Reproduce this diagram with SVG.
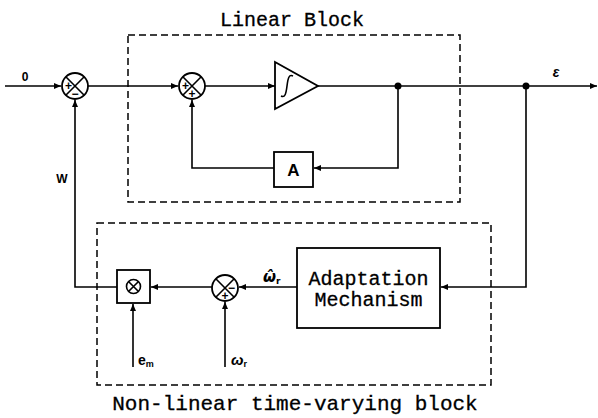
<svg xmlns="http://www.w3.org/2000/svg" width="598" height="418" viewBox="0 0 598 418">
<style>
.ln{fill:none;stroke:#000;stroke-width:1.6}
.box{fill:#fff;stroke:#000;stroke-width:1.8}
.dash{fill:none;stroke:#000;stroke-width:1.5;stroke-dasharray:7 4}
.big{font-family:"Liberation Mono","DejaVu Sans Mono",monospace;font-size:20px;fill:#000;stroke:#000;stroke-width:0.3}
.lbl{font-family:"Liberation Sans","DejaVu Sans",sans-serif;font-weight:bold;fill:#000}
.sg{font-family:"Liberation Sans",sans-serif;font-weight:bold;font-size:12px;fill:#000;text-anchor:middle}
</style>
<defs>
<marker id="ar" markerWidth="8" markerHeight="8" refX="7" refY="4" orient="auto" markerUnits="userSpaceOnUse">
<path d="M0,1 L7,4 L0,7 z" fill="#000"/>
</marker>
</defs>
<rect class="dash" x="128" y="35" width="332" height="167"/>
<rect class="dash" x="97" y="223" width="394" height="162"/>
<text class="big" x="292" y="26" text-anchor="middle">Linear Block</text>
<text class="big" x="295" y="410" text-anchor="middle" style="font-size:21px">Non-linear time-varying block</text>
<g id="connectors">
<line class="ln" x1="5" y1="86" x2="61" y2="86" marker-end="url(#ar)"/>
<line class="ln" x1="88" y1="86" x2="178" y2="86" marker-end="url(#ar)"/>
<line class="ln" x1="205" y1="86" x2="275" y2="86" marker-end="url(#ar)"/>
<line class="ln" x1="318" y1="86" x2="597" y2="86" marker-end="url(#ar)"/>
<polyline class="ln" points="398,86 398,168 314,168" marker-end="url(#ar)"/>
<polyline class="ln" points="274,168 192,168 192,100" marker-end="url(#ar)"/>
<polyline class="ln" points="526,86 526,287 441,287" marker-end="url(#ar)"/>
<line class="ln" x1="297" y1="287" x2="239" y2="287" marker-end="url(#ar)"/>
<line class="ln" x1="212" y1="287" x2="151" y2="287" marker-end="url(#ar)"/>
<polyline class="ln" points="117,287 75,287 75,100" marker-end="url(#ar)"/>
<line class="ln" x1="133" y1="367" x2="133" y2="304" marker-end="url(#ar)"/>
<line class="ln" x1="225" y1="367" x2="225" y2="302" marker-end="url(#ar)"/>
<circle cx="398" cy="86" r="3.5" fill="#000"/>
<circle cx="526" cy="86" r="3.5" fill="#000"/>
</g>
<g id="sum1">
<circle class="box" cx="75" cy="86" r="13"/>
<path class="ln" d="M65.8,76.8 L84.2,95.2 M84.2,76.8 L65.8,95.2"/>
<text class="sg" x="68.5" y="90">+</text>
<text class="sg" x="75" y="97.5">−</text>
</g>
<g id="sum2">
<circle class="box" cx="192" cy="86" r="13"/>
<path class="ln" d="M182.8,76.8 L201.2,95.2 M201.2,76.8 L182.8,95.2"/>
<text class="sg" x="185.5" y="90">+</text>
<text class="sg" x="192" y="97.5">+</text>
</g>
<g id="integrator">
<polygon class="box" points="275,62 318,86 275,109"/>
<path class="ln" d="M281,96 C285,98 286,94 287,86 C288,78 289,74 293,76"/>
</g>
<g id="gainA">
<rect class="box" x="274" y="152" width="39" height="35"/>
<text class="lbl" x="293.5" y="176" text-anchor="middle" font-size="17">A</text>
</g>
<g id="adaptation">
<rect class="box" x="297" y="248" width="143" height="80"/>
<text class="big" x="368.5" y="285" text-anchor="middle">Adaptation</text>
<text class="big" x="368.5" y="306" text-anchor="middle">Mechanism</text>
</g>
<g id="sum3">
<circle class="box" cx="225" cy="288" r="13"/>
<path class="ln" d="M215.8,278.8 L234.2,297.2 M234.2,278.8 L215.8,297.2"/>
<text class="sg" x="231.5" y="292">−</text>
<text class="sg" x="225" y="299.5">+</text>
</g>
<g id="multiplier">
<rect class="box" x="117" y="270" width="33" height="33"/>
<circle class="ln" cx="133.5" cy="286.5" r="7"/>
<path class="ln" d="M128.5,281.5 L138.5,291.5 M138.5,281.5 L128.5,291.5"/>
</g>
<g id="labels">
<text class="lbl" x="25" y="81" font-size="12" text-anchor="middle">0</text>
<text class="lbl" x="62" y="183" font-size="12" text-anchor="middle">W</text>
<text class="lbl" x="556" y="77" font-size="14" font-style="italic" text-anchor="middle">ε</text>
<text x="263" y="282" font-size="15" font-weight="bold" font-style="italic" font-family="DejaVu Sans, sans-serif">ω̂<tspan font-size="9" dy="2" font-style="normal">r</tspan></text>
<text class="lbl" x="138" y="365" font-size="14">e<tspan font-size="9" dy="2">m</tspan></text>
<text class="lbl" x="231" y="365" font-size="15" font-style="italic">ω<tspan font-size="9" dy="2" font-style="normal">r</tspan></text>
</g>
</svg>
